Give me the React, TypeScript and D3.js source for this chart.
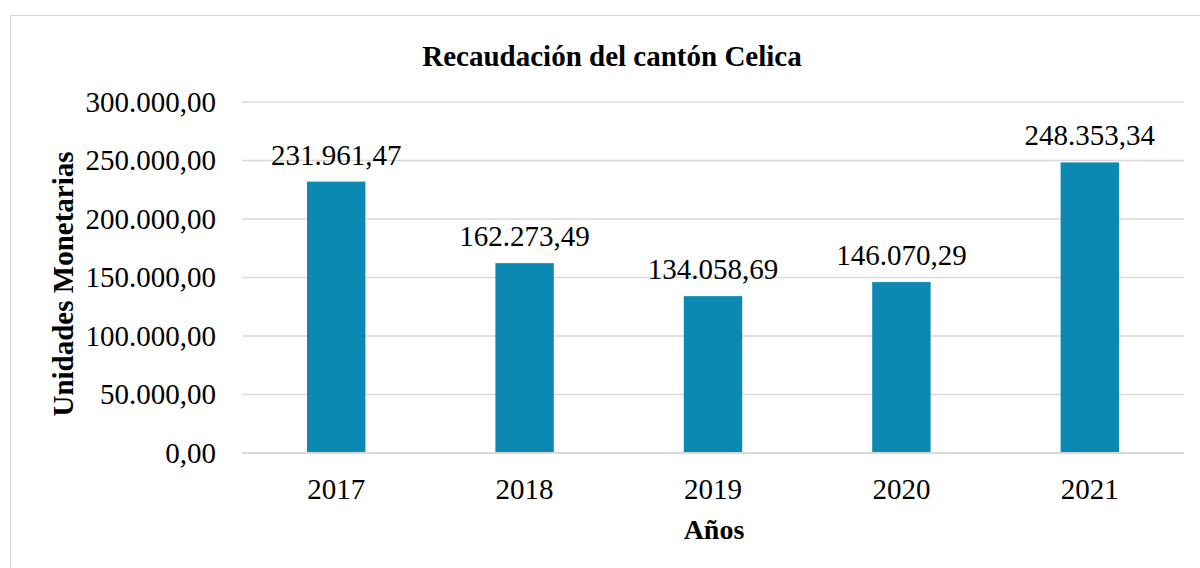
import React from "react";
import * as d3 from "d3";

const categories = ["2017", "2018", "2019", "2020", "2021"];
const values = [231961.47, 162273.49, 134058.69, 146070.29, 248353.34];
const yTicks = [0, 50000, 100000, 150000, 200000, 250000, 300000];
const title = "Recaudación del cantón Celica";
const yTitle = "Unidades Monetarias";
const xTitle = "Años";

const fmt = (v: number) => {
  const [i, d] = v.toFixed(2).split(".");
  return i.replace(/\B(?=(\d{3})+(?!\d))/g, ".") + "," + d;
};

export default function App() {
  const W = 1200, H = 568;
  const left = 242, right = 1184, top = 102, bottom = 453;
  const x = d3.scaleBand().domain(categories).range([left, right]).paddingInner(0.69).paddingOuter(0.345);
  const y = d3.scaleLinear().domain([0, 300000]).range([bottom, top]);
  const font = "'Liberation Serif', 'Times New Roman', serif";
  const fs = 29;
  return (
    <svg width={W} height={H} style={{ position: "absolute", left: 0, top: 0, background: "#fff" }} fontFamily={font}>
      <rect x={10.5} y={15.5} width={1250} height={600} fill="#fff" stroke="#d9d9d9" strokeWidth={1} />
      <text x={612} y={66} textAnchor="middle" fontWeight="bold" fontSize={29}>{title}</text>
      {yTicks.map((t) => (
        <g key={t}>
          {t > 0 && <line x1={left} x2={right} y1={y(t)} y2={y(t)} stroke="#d9d9d9" strokeWidth={1.3} />}
          <text x={216} y={y(t)} dy="0.33em" textAnchor="end" fontSize={fs}>{fmt(t)}</text>
        </g>
      ))}
      {categories.map((c, i) => (
        <g key={c}>
          <rect x={x(c)} y={y(values[i])} width={x.bandwidth()} height={bottom - y(values[i])} fill="#0b89b3" />
          <text x={(x(c) as number) + x.bandwidth() / 2} y={y(values[i]) - 17} textAnchor="middle" fontSize={fs}>{fmt(values[i])}</text>
          <text x={(x(c) as number) + x.bandwidth() / 2} y={499} textAnchor="middle" fontSize={fs}>{c}</text>
        </g>
      ))}
      <line x1={left} x2={right} y1={bottom} y2={bottom} stroke="#d9d9d9" strokeWidth={2} />
      <text transform={`translate(73,284) rotate(-90)`} textAnchor="middle" fontWeight="bold" fontSize={29}>{yTitle}</text>
      <text x={714} y={539} textAnchor="middle" fontWeight="bold" fontSize={28}>{xTitle}</text>
    </svg>
  );
}
